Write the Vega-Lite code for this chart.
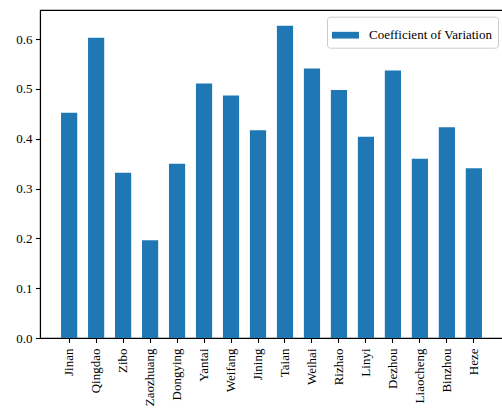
{
  "$schema": "https://vega.github.io/schema/vega-lite/v6.json",
  "width": 463,
  "height": 328,
  "autosize": "none",
  "padding": {"left": 40, "top": 10, "right": 0, "bottom": 72},
  "background": "white",
  "config": {
    "font": "Liberation Serif",
    "view": {"stroke": "black", "strokeWidth": 1.1},
    "axis": {
      "domainColor": "black",
      "domainWidth": 1.1,
      "tickColor": "black",
      "tickWidth": 1.1,
      "tickSize": 4.5,
      "labelColor": "black",
      "labelFont": "Liberation Serif",
      "labelFontSize": 13,
      "grid": false,
      "title": null
    }
  },
  "data": {
    "values": [
      {"city": "Jinan", "cv": 0.452},
      {"city": "Qingdao", "cv": 0.603},
      {"city": "Zibo", "cv": 0.332},
      {"city": "Zaozhuang", "cv": 0.196},
      {"city": "Dongying", "cv": 0.35},
      {"city": "Yantai", "cv": 0.511},
      {"city": "Weifang", "cv": 0.487},
      {"city": "Jining", "cv": 0.417},
      {"city": "Taian", "cv": 0.627},
      {"city": "Weihai", "cv": 0.541},
      {"city": "Rizhao", "cv": 0.498},
      {"city": "Linyi", "cv": 0.404},
      {"city": "Dezhou", "cv": 0.537},
      {"city": "Liaocheng", "cv": 0.36},
      {"city": "Binzhou", "cv": 0.423},
      {"city": "Heze", "cv": 0.341}
    ]
  },
  "mark": {"type": "bar"},
  "encoding": {
    "x": {
      "field": "city",
      "type": "nominal",
      "sort": null,
      "scale": {"paddingInner": 0.4, "paddingOuter": 0.78},
      "axis": {
        "labelAngle": 270,
        "labelAlign": "right",
        "labelBaseline": "middle",
        "labelPadding": 5.5
      }
    },
    "y": {
      "field": "cv",
      "type": "quantitative",
      "scale": {"domain": [0, 0.6585], "nice": false, "zero": true},
      "axis": {
        "values": [0, 0.1, 0.2, 0.3, 0.4, 0.5, 0.6],
        "format": ".1f",
        "labelPadding": 3.5
      }
    },
    "color": {
      "datum": "Coefficient of Variation",
      "type": "nominal",
      "scale": {"range": ["#1f77b4"]},
      "legend": {
        "title": null,
        "orient": "none",
        "legendX": 287,
        "legendY": 6.7,
        "symbolType": "M-1,-0.25H1V0.25H-1Z",
        "symbolSize": 729,
        "symbolStrokeWidth": 0,
        "labelFont": "Liberation Serif",
        "labelFontSize": 13,
        "labelColor": "black",
        "labelOffset": 10,
        "padding": 5,
        "strokeColor": "#cccccc",
        "fillColor": "white",
        "cornerRadius": 3
      }
    }
  }
}
